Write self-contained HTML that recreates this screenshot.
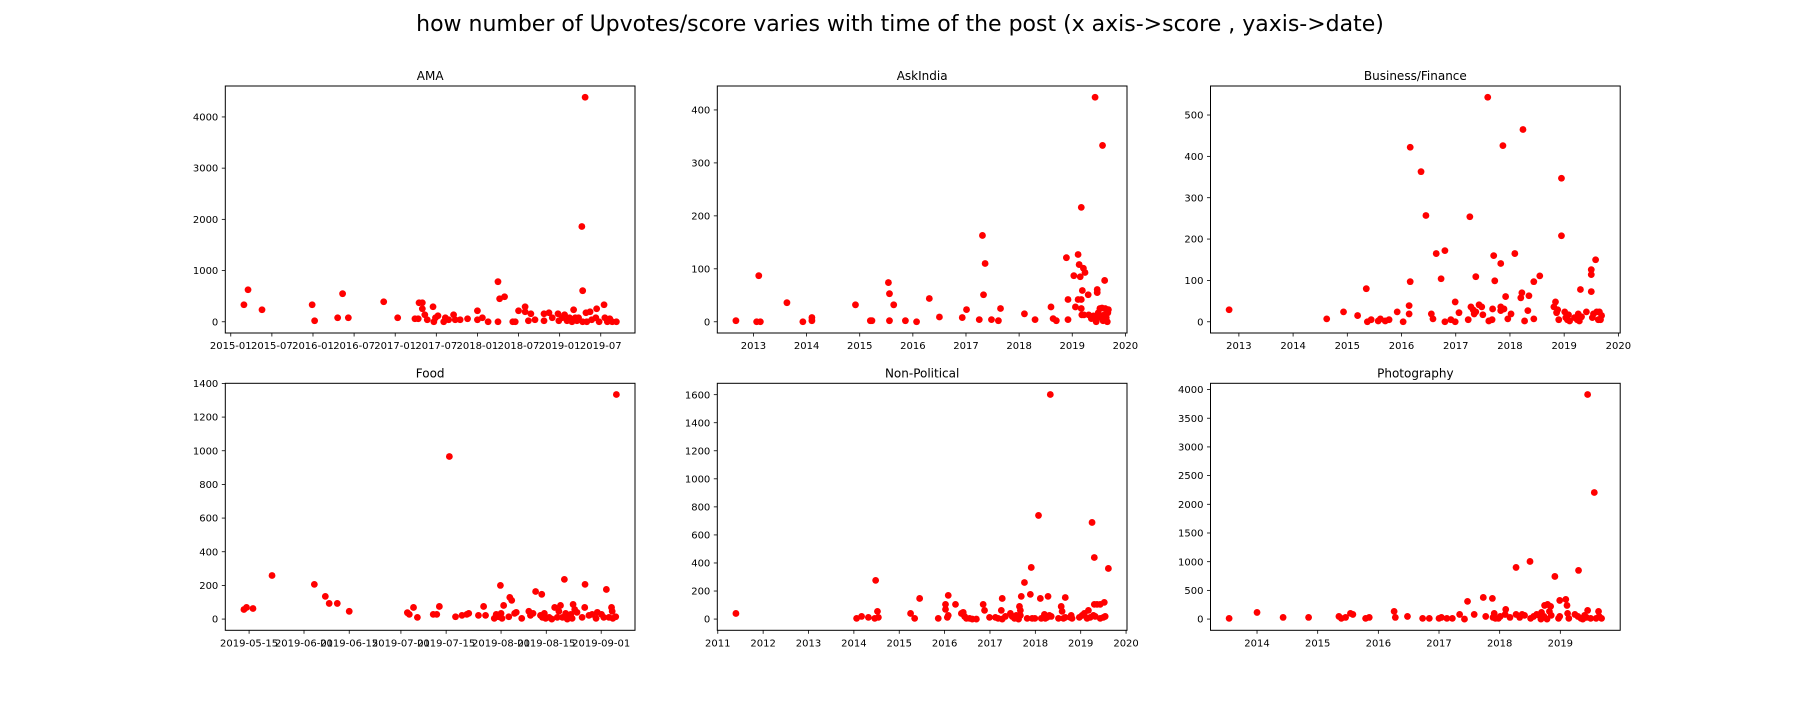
<!DOCTYPE html>
<html><head><meta charset="utf-8">
<style>
html,body{margin:0;padding:0;background:#fff;}
svg{display:block;font-family:"DejaVu Sans","Liberation Sans",sans-serif;}
</style></head>
<body>
<svg id="fig" width="1800" height="720" viewBox="0 0 1800 720" xmlns="http://www.w3.org/2000/svg">
<rect x="0" y="0" width="1800" height="720" fill="#fff"/>
<text x="900" y="31" text-anchor="middle" font-size="22" fill="#000">how number of Upvotes/score varies with time of the post (x axis-&gt;score , yaxis-&gt;date)</text>
</svg>
<script>
// ---- AMA (x: fractional year) ----
const amaX=[2015.16,2015.21,2015.38,2015.99,2016.02,2016.30,2016.36,2016.43,2016.86,2017.03,2017.24,2017.28,2017.29,2017.33,2017.33,2017.36,2017.39,2017.46,2017.47,2017.49,2017.52,2017.59,2017.61,2017.65,2017.71,2017.73,2017.79,2017.88,2018.0,2018.0,2018.06,2018.13,2018.25,2018.25,2018.27,2018.33,2018.43,2018.46,2018.5,2018.58,2018.58,2018.62,2018.65,2018.70,2018.81,2018.81,2018.87,2018.91,2018.98,2018.99,2019.03,2019.06,2019.09,2019.12,2019.15,2019.17,2019.19,2019.21,2019.23,2019.27,2019.28,2019.28,2019.31,2019.32,2019.33,2019.37,2019.39,2019.45,2019.44,2019.48,2019.54,2019.55,2019.58,2019.61,2019.64,2019.69];
const amaY=[333,626,235,333,20,78,548,78,391,78,59,59,372,372,254,137,39,294,0,78,117,0,78,39,137,39,39,59,215,39,78,0,783,0,450,489,0,0,215,294,196,20,157,39,20,157,176,78,157,20,78,137,20,78,0,235,78,20,78,1860,607,0,4385,176,0,196,39,254,78,0,333,78,0,59,0,0];
const amaXTicks=[2015.0,2015.5,2016.0,2016.5,2017.0,2017.5,2018.0,2018.5,2019.0,2019.5];
const amaXLabels=["2015-01","2015-07","2016-01","2016-07","2017-01","2017-07","2018-01","2018-07","2019-01","2019-07"];
const amaYTicks=[0,1000,2000,3000,4000];

// ---- AskIndia ----
const askX=[2012.67,2013.06,2013.10,2013.13,2013.63,2013.93,2014.10,2014.10,2014.92,2015.20,2015.23,2015.54,2015.56,2015.56,2015.64,2015.86,2016.07,2016.31,2016.50,2016.93,2017.01,2017.25,2017.31,2017.33,2017.36,2017.48,2017.61,2017.65,2018.10,2018.30,2018.60,2018.64,2018.70,2018.89,2018.92,2018.92,2019.03,2019.06,2019.11,2019.11,2019.13,2019.15,2019.17,2019.17,2019.17,2019.18,2019.19,2019.21,2019.22,2019.24,2019.30,2019.31,2019.36,2019.40,2019.43,2019.44,2019.45,2019.47,2019.47,2019.49,2019.52,2019.54,2019.56,2019.57,2019.58,2019.60,2019.61,2019.62,2019.64,2019.66,2019.68,2019.67];
const askY=[2,0,87,0,36,0,8,2,32,2,2,74,53,2,32,2,0,44,9,8,23,4,163,51,110,4,2,25,15,4,28,6,2,121,42,4,87,28,127,42,108,85,216,42,25,13,59,101,13,93,51,13,6,11,424,9,0,61,55,17,25,8,26,333,2,13,78,25,8,0,23,17];
const askXTicks=[2013,2014,2015,2016,2017,2018,2019,2020];
const askXLabels=["2013","2014","2015","2016","2017","2018","2019","2020"];
const askYTicks=[0,100,200,300,400];

// ---- Business/Finance ----
const bizX=[2012.82,2014.62,2014.93,2015.19,2015.35,2015.37,2015.44,2015.57,2015.61,2015.70,2015.77,2015.92,2016.03,2016.14,2016.14,2016.16,2016.16,2016.36,2016.45,2016.55,2016.58,2016.64,2016.73,2016.80,2016.80,2016.91,2016.99,2016.99,2017.06,2017.23,2017.26,2017.28,2017.32,2017.34,2017.37,2017.37,2017.43,2017.48,2017.50,2017.59,2017.61,2017.67,2017.68,2017.70,2017.72,2017.83,2017.83,2017.83,2017.87,2017.89,2017.92,2017.96,2018.02,2018.09,2018.20,2018.22,2018.24,2018.27,2018.33,2018.35,2018.44,2018.44,2018.55,2018.81,2018.84,2018.86,2018.88,2018.90,2018.95,2018.95,2019.01,2019.03,2019.06,2019.08,2019.10,2019.19,2019.24,2019.26,2019.28,2019.30,2019.32,2019.41,2019.50,2019.50,2019.50,2019.52,2019.54,2019.58,2019.60,2019.63,2019.65,2019.67,2019.69];
const bizY=[29,7,24,15,80,0,5,2,7,2,5,24,0,39,19,422,97,363,257,19,7,165,104,172,0,5,48,0,22,5,254,36,29,19,109,24,41,36,17,543,2,5,31,160,99,141,36,27,426,31,61,7,19,165,58,70,465,2,27,63,97,7,111,36,48,22,29,5,347,208,24,10,5,17,2,10,5,19,2,78,12,24,126,114,73,10,19,150,24,5,24,5,15];
const bizXTicks=[2013,2014,2015,2016,2017,2018,2019,2020];
const bizXLabels=["2013","2014","2015","2016","2017","2018","2019","2020"];
const bizYTicks=[0,100,200,300,400,500];

// ---- Food (x: day of year 2019) ----
const foodX=[133.4,134.2,136.2,142.1,155.2,158.6,159.8,162.3,166,184,184.6,185.9,187.1,192,193.1,193.9,197,198.9,200.9,202.4,203,206,207.6,208.2,210.9,211.5,212.2,212.8,213,213.3,213.8,215.4,215.7,216.3,217.2,217.7,219.4,221.6,222.1,222.9,223.7,225.6,225.2,225.8,226.4,226.8,227.9,228.7,229.6,230.4,230.9,231.4,232,232.6,233,233.5,234,234.6,235,235.3,235.8,236.5,238.1,238.9,239,240.2,241.2,242.4,242.8,244.1,244.8,245.6,246.4,247.2,247.4,247.6,248.5,248.7];
const foodY=[57,69,63,259,206,135,93,93,46,38,28,69,10,28,28,75,966,14,22,28,34,22,75,22,4,28,14,200,34,4,81,14,129,111,34,40,4,46,22,34,164,147,22,10,34,4,10,0,69,10,46,81,10,236,34,0,14,28,4,87,57,40,10,69,206,22,28,4,40,28,10,176,10,69,46,4,14,1334];
const foodXTicks=[135,152,166,182,196,213,227,244];
const foodXLabels=["2019-05-15","2019-06-01","2019-06-15","2019-07-01","2019-07-15","2019-08-01","2019-08-15","2019-09-01"];
const foodYTicks=[0,200,400,600,800,1000,1200,1400];

// ---- Non-Political ----
const npX=[2011.40,2014.06,2014.17,2014.32,2014.46,2014.48,2014.52,2014.54,2015.25,2015.34,2015.45,2015.86,2016.02,2016.02,2016.06,2016.08,2016.08,2016.24,2016.37,2016.41,2016.44,2016.48,2016.55,2016.61,2016.70,2016.85,2016.88,2016.99,2017.12,2017.18,2017.25,2017.27,2017.27,2017.34,2017.45,2017.49,2017.54,2017.58,2017.63,2017.65,2017.67,2017.67,2017.69,2017.76,2017.82,2017.89,2017.91,2017.93,2017.99,2018.07,2018.11,2018.13,2018.20,2018.22,2018.26,2018.28,2018.31,2018.33,2018.35,2018.51,2018.57,2018.59,2018.62,2018.66,2018.66,2018.77,2018.79,2018.81,2018.97,2019.03,2019.08,2019.14,2019.17,2019.21,2019.25,2019.28,2019.30,2019.30,2019.32,2019.36,2019.43,2019.43,2019.50,2019.52,2019.54,2019.61];
const npY=[40,5,19,12,5,276,55,12,40,5,147,5,105,69,12,169,26,105,40,48,19,5,5,0,0,105,62,12,12,5,62,147,0,19,40,19,5,26,0,90,62,26,162,261,5,176,368,5,5,739,147,5,33,5,12,162,26,1601,19,5,90,55,5,154,12,12,26,5,12,26,40,5,62,12,689,26,439,105,19,105,5,105,12,119,19,361];
const npXTicks=[2011,2012,2013,2014,2015,2016,2017,2018,2019,2020];
const npXLabels=["2011","2012","2013","2014","2015","2016","2017","2018","2019","2020"];
const npYTicks=[0,200,400,600,800,1000,1200,1400,1600];

// ---- Photography ----
const phX=[2013.54,2014.0,2014.43,2014.85,2015.35,2015.39,2015.46,2015.54,2015.58,2015.79,2015.85,2016.26,2016.28,2016.48,2016.73,2016.84,2017.00,2017.04,2017.13,2017.22,2017.34,2017.42,2017.47,2017.58,2017.73,2017.77,2017.88,2017.89,2017.91,2017.93,2017.98,2018.01,2018.09,2018.10,2018.17,2018.27,2018.27,2018.33,2018.37,2018.41,2018.50,2018.51,2018.56,2018.61,2018.65,2018.68,2018.69,2018.73,2018.74,2018.78,2018.79,2018.82,2018.84,2018.85,2018.91,2018.97,2018.99,2018.99,2019.09,2019.11,2019.12,2019.14,2019.24,2019.29,2019.30,2019.34,2019.37,2019.40,2019.43,2019.45,2019.45,2019.50,2019.56,2019.59,2019.63,2019.64,2019.68];
const phY=[12,116,29,29,46,12,29,99,81,12,29,134,29,46,12,12,12,29,12,12,81,0,308,81,377,46,360,29,99,12,12,46,81,168,29,900,81,29,81,64,1004,12,46,81,64,0,116,46,238,0,255,134,221,64,743,12,325,46,343,238,99,12,81,46,848,12,0,64,29,3913,151,12,2206,12,134,46,12];
const phXTicks=[2014,2015,2016,2017,2018,2019];
const phXLabels=["2014","2015","2016","2017","2018","2019"];
const phYTicks=[0,500,1000,1500,2000,2500,3000,3500,4000];

const NS="http://www.w3.org/2000/svg";
const fig=document.getElementById('fig');
const colX=[225.3,717.3,1210.5], AW=409.7;
const rowY=[86,383.3], AH=247;

function mk(tag,attrs,parent){const e=document.createElementNS(NS,tag);for(const k in attrs)e.setAttribute(k,attrs[k]);parent.appendChild(e);return e;}

function ext(a){let mn=Math.min(...a),mx=Math.max(...a),m=(mx-mn)*0.05;return [mn-m,mx+m];}

function panel(name,title,xs,ys,xt,xl,yt,c,r){
  const x0=colX[c],y0=rowY[r];
  const g=mk('g',{},fig);
  
  
  const [xmin,xmax]=ext(xs),[ymin,ymax]=ext(ys);
  const sx=v=>x0+(v-xmin)/(xmax-xmin)*AW;
  const sy=v=>y0+AH-(v-ymin)/(ymax-ymin)*AH;
  const t=mk('text',{x:x0+AW/2,y:y0-6,'text-anchor':'middle','font-size':'12',fill:'#000'},g);
  t.textContent=title;
  
  
  const pts=mk('g',{fill:'#ff0000'},g);
  
  
  for(let i=0;i<xs.length;i++){
    const p=mk('circle',{cx:sx(xs[i]).toFixed(2),cy:sy(ys[i]).toFixed(2),r:3.4},pts);
    
    
  }
  const xa=mk('g',{},g);
  
  
  xt.forEach((v,i)=>{
    const x=sx(v);
    mk('line',{x1:x,x2:x,y1:y0+AH,y2:y0+AH+3.5,stroke:'#000','stroke-width':0.8},xa);
    const tx=mk('text',{x:x,y:y0+AH+16,'text-anchor':'middle','font-size':'10',fill:'#000'},xa);
    tx.textContent=xl[i];
    
    
  });
  const ya=mk('g',{},g);
  
  
  yt.forEach(v=>{
    const y=sy(v);
    mk('line',{x1:x0-3.5,x2:x0,y1:y,y2:y,stroke:'#000','stroke-width':0.8},ya);
    const ty=mk('text',{x:x0-7,y:y+3.6,'text-anchor':'end','font-size':'10',fill:'#000'},ya);
    ty.textContent=String(v);
    
    
  });
  const fr=mk('rect',{x:x0,y:y0,width:AW,height:AH,fill:'none',stroke:'#000','stroke-width':1},g);
  
  
}
panel('ama','AMA',amaX,amaY,amaXTicks,amaXLabels,amaYTicks,0,0);
panel('askindia','AskIndia',askX,askY,askXTicks,askXLabels,askYTicks,1,0);
panel('business-finance','Business/Finance',bizX,bizY,bizXTicks,bizXLabels,bizYTicks,2,0);
panel('food','Food',foodX,foodY,foodXTicks,foodXLabels,foodYTicks,0,1);
panel('non-political','Non-Political',npX,npY,npXTicks,npXLabels,npYTicks,1,1);
panel('photography','Photography',phX,phY,phXTicks,phXLabels,phYTicks,2,1);
</script>
</body></html>
